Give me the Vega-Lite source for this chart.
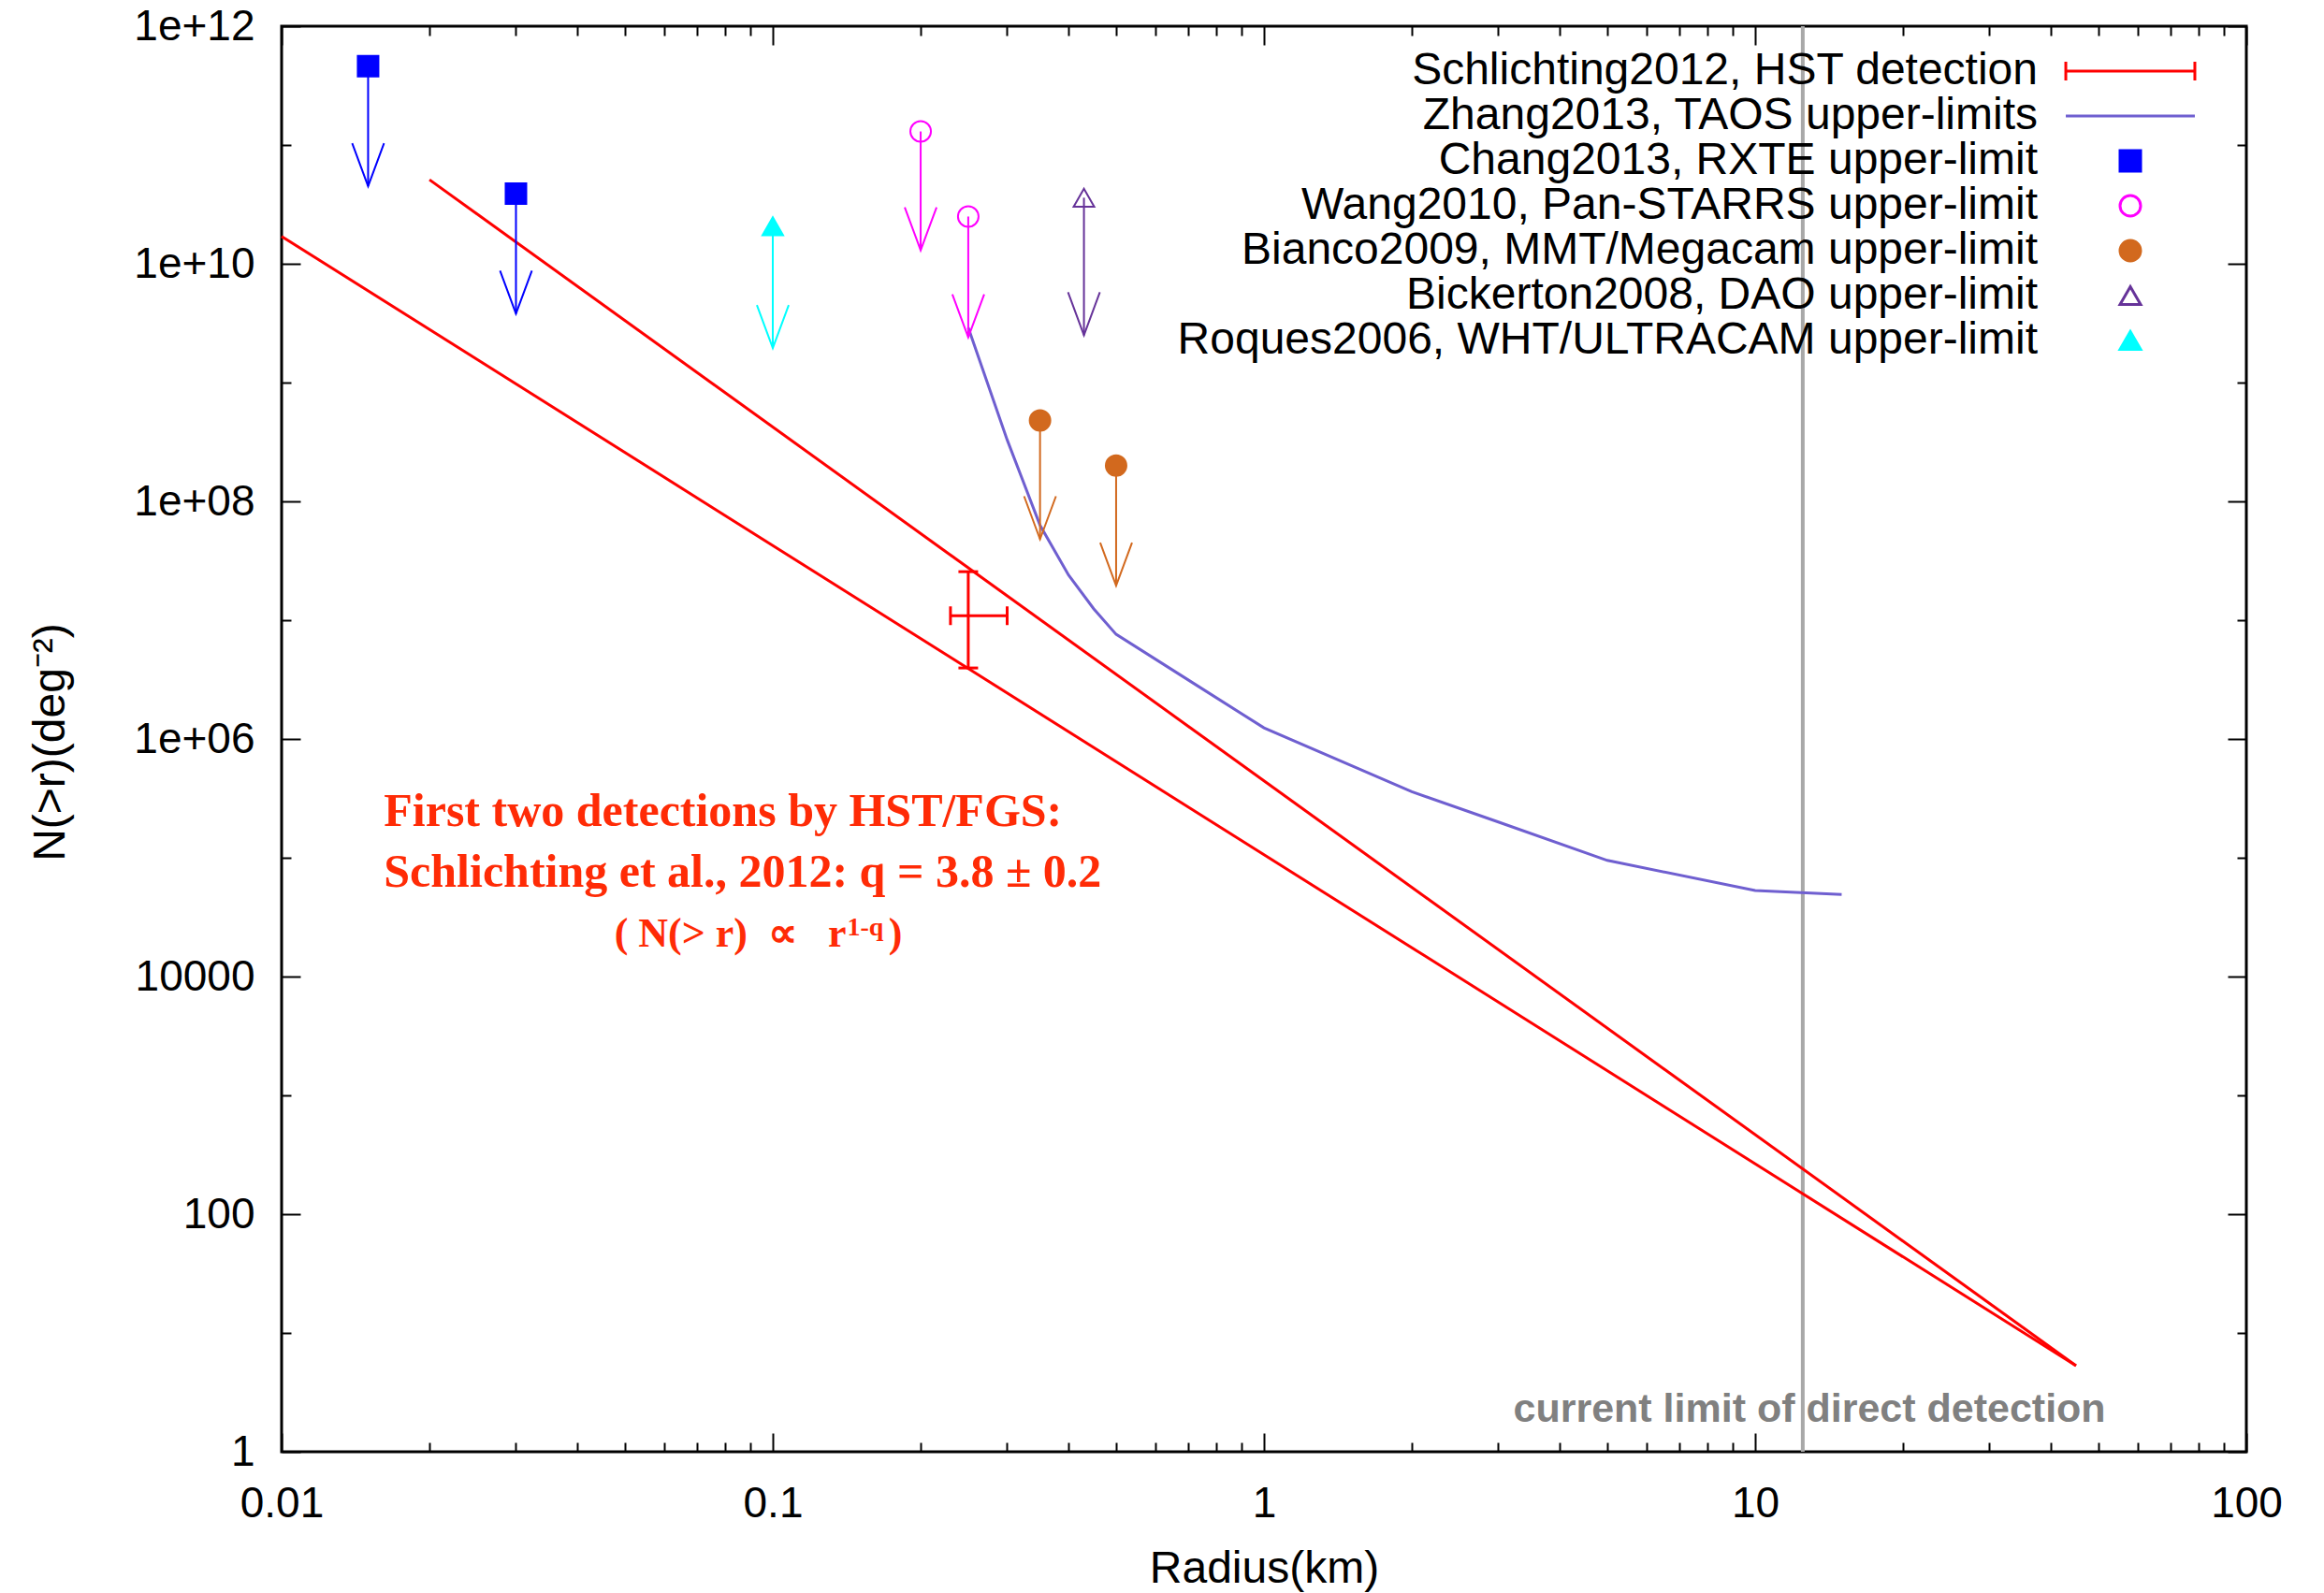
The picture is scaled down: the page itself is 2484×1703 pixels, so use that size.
{
  "$schema": "https://vega.github.io/schema/vega-lite/v6.json",
  "width": 2100,
  "height": 1524,
  "autosize": {"type": "none"},
  "padding": {"left": 301, "top": 28, "right": 83, "bottom": 151},
  "background": "white",
  "config": {
    "view": {"stroke": "#000000", "strokeWidth": 3},
    "font": "Liberation Sans",
    "axis": {"grid": false, "domain": false, "tickColor": "#000000", "tickWidth": 2, "labelFlush": false, "labelOverlap": false, "labelBound": false, "labelColor": "#000000", "labelFont": "Liberation Sans", "labelFontSize": 46, "titleFont": "Liberation Sans", "titleFontSize": 48, "titleFontWeight": "normal", "titleColor": "#000000"}
  },
  "datasets": {
    "powerlaw": [
      {"model": "q=3.6", "r": 0.01, "n": 1.7e10},
      {"model": "q=3.6", "r": 45, "n": 5.3},
      {"model": "q=4.0", "r": 0.02, "n": 5.1e10},
      {"model": "q=4.0", "r": 45, "n": 5.3}
    ],
    "taos": [
      {"r": 0.25, "n": 2.9e9}, {"r": 0.3, "n": 3.3e8}, {"r": 0.35, "n": 6.3e7}, {"r": 0.4, "n": 2.4e7},
      {"r": 0.45, "n": 1.25e7}, {"r": 0.5, "n": 7.6e6}, {"r": 1, "n": 1.24e6}, {"r": 2, "n": 3.6e5},
      {"r": 3, "n": 2.0e5}, {"r": 5, "n": 9.5e4}, {"r": 10, "n": 5.3e4}, {"r": 15, "n": 4.9e4}
    ],
    "errbar": [{"r": 0.25, "n": 1.09e7, "nlo": 3.96e6, "nhi": 2.56e7, "rlo": 0.23, "rhi": 0.30}],
    "limits": [
      {"series": "Chang2013, RXTE upper-limit", "r": 0.015, "n": 4.6e11, "ntip": 4.5e10},
      {"series": "Chang2013, RXTE upper-limit", "r": 0.03, "n": 3.9e10, "ntip": 3.8e9},
      {"series": "Wang2010, Pan-STARRS upper-limit", "r": 0.2, "n": 1.3e11, "ntip": 1.3e10},
      {"series": "Wang2010, Pan-STARRS upper-limit", "r": 0.25, "n": 2.5e10, "ntip": 2.4e9},
      {"series": "Bianco2009, MMT/Megacam upper-limit", "r": 0.35, "n": 4.8e8, "ntip": 4.8e7},
      {"series": "Bianco2009, MMT/Megacam upper-limit", "r": 0.5, "n": 2.0e8, "ntip": 1.95e7},
      {"series": "Bickerton2008, DAO upper-limit", "r": 0.43, "n": 3.6e10, "ntip": 2.5e9},
      {"series": "Roques2006, WHT/ULTRACAM upper-limit", "r": 0.1, "n": 2.07e10, "ntip": 1.95e9}
    ],
    "one": [{}]
  },
  "resolve": {"axis": {"x": "independent", "y": "independent"}},
  "layer": [
    {
      "data": {"name": "one"},
      "mark": {"type": "rule", "color": "#a8a8a8", "strokeWidth": 4},
      "encoding": {
        "x": {"datum": 12.5, "type": "quantitative", "scale": {"type": "log", "domain": [0.01, 100], "nice": false}, "axis": null}
      }
    },
    {
      "data": {"name": "powerlaw"},
      "mark": {"type": "line", "color": "#ff0000", "strokeWidth": 3},
      "encoding": {
        "x": {"field": "r", "type": "quantitative", "scale": {"type": "log", "domain": [0.01, 100], "nice": false},
              "axis": {"orient": "bottom", "values": [0.01, 0.1, 1, 10, 100], "format": "~g", "tickSize": -20, "labelPadding": 53, "title": "Radius(km)", "titleX": 1050, "titleY": 139, "titleBaseline": "alphabetic", "titleAlign": "center"}},
        "y": {"field": "n", "type": "quantitative", "scale": {"type": "log", "domain": [1, 1e12], "nice": false},
              "axis": {"orient": "left", "values": [1, 100, 10000, 1e6, 1e8, 1e10, 1e12], "labelExpr": "datum.value < 1e5 ? format(datum.value, 'd') : datum.value < 1e7 ? '1e+06' : datum.value < 1e9 ? '1e+08' : datum.value < 1e11 ? '1e+10' : '1e+12'", "tickSize": -20, "labelPadding": 49, "title": "N(>r)(deg⁻²)", "titleAngle": 270, "titleX": -233, "titleY": 765, "titleBaseline": "alphabetic", "titleAlign": "center"}},
        "detail": {"field": "model"}
      }
    },
    {
      "data": {"name": "taos"},
      "mark": {"type": "line", "color": "#6f5fd0", "strokeWidth": 3},
      "encoding": {
        "x": {"field": "r", "type": "quantitative", "scale": {"type": "log", "domain": [0.01, 100], "nice": false},
              "axis": {"orient": "bottom", "values": [0.02, 0.03, 0.04, 0.05, 0.06, 0.07, 0.08, 0.09, 0.2, 0.3, 0.4, 0.5, 0.6, 0.7, 0.8, 0.9, 2, 3, 4, 5, 6, 7, 8, 9, 20, 30, 40, 50, 60, 70, 80, 90], "tickSize": -10, "labels": false, "title": null}},
        "y": {"field": "n", "type": "quantitative", "scale": {"type": "log", "domain": [1, 1e12], "nice": false},
              "axis": {"orient": "left", "values": [10, 1000, 1e5, 1e7, 1e9, 1e11], "tickSize": -10, "labels": false, "title": null}}
      }
    },
    {
      "data": {"name": "errbar"},
      "mark": {"type": "rule", "color": "#ff0000", "strokeWidth": 3},
      "encoding": {
        "x": {"field": "r", "type": "quantitative", "scale": {"type": "log", "domain": [0.01, 100], "nice": false},
              "axis": {"orient": "top", "values": [0.01, 0.1, 1, 10, 100], "tickSize": -20, "labels": false, "title": null}},
        "y": {"field": "nlo", "type": "quantitative", "scale": {"type": "log", "domain": [1, 1e12], "nice": false},
              "axis": {"orient": "right", "values": [1, 100, 10000, 1e6, 1e8, 1e10, 1e12], "tickSize": -20, "labels": false, "title": null}},
        "y2": {"field": "nhi"}
      }
    },
    {
      "data": {"name": "errbar"},
      "mark": {"type": "rule", "color": "#ff0000", "strokeWidth": 3},
      "encoding": {
        "x": {"field": "rlo", "type": "quantitative", "scale": {"type": "log", "domain": [0.01, 100], "nice": false},
              "axis": {"orient": "top", "values": [0.02, 0.03, 0.04, 0.05, 0.06, 0.07, 0.08, 0.09, 0.2, 0.3, 0.4, 0.5, 0.6, 0.7, 0.8, 0.9, 2, 3, 4, 5, 6, 7, 8, 9, 20, 30, 40, 50, 60, 70, 80, 90], "tickSize": -10, "labels": false, "title": null}},
        "x2": {"field": "rhi"},
        "y": {"field": "n", "type": "quantitative", "scale": {"type": "log", "domain": [1, 1e12], "nice": false},
              "axis": {"orient": "right", "values": [10, 1000, 1e5, 1e7, 1e9, 1e11], "tickSize": -10, "labels": false, "title": null}}
      }
    },
    {
      "data": {"name": "errbar"},
      "mark": {"type": "point", "filled": false, "color": "#ff0000", "strokeWidth": 3, "opacity": 1, "shape": "M -1 0 L 1 0", "size": 441},
      "encoding": {
        "x": {"field": "r", "type": "quantitative", "scale": {"type": "log", "domain": [0.01, 100], "nice": false}, "axis": null},
        "y": {"field": "nlo", "type": "quantitative", "scale": {"type": "log", "domain": [1, 1e12], "nice": false}, "axis": null}
      }
    },
    {
      "data": {"name": "errbar"},
      "mark": {"type": "point", "filled": false, "color": "#ff0000", "strokeWidth": 3, "opacity": 1, "shape": "M -1 0 L 1 0", "size": 441},
      "encoding": {
        "x": {"field": "r", "type": "quantitative", "scale": {"type": "log", "domain": [0.01, 100], "nice": false}, "axis": null},
        "y": {"field": "nhi", "type": "quantitative", "scale": {"type": "log", "domain": [1, 1e12], "nice": false}, "axis": null}
      }
    },
    {
      "data": {"name": "errbar"},
      "mark": {"type": "point", "filled": false, "color": "#ff0000", "strokeWidth": 3, "opacity": 1, "shape": "M 0 -1 L 0 1", "size": 400},
      "encoding": {
        "x": {"field": "rlo", "type": "quantitative", "scale": {"type": "log", "domain": [0.01, 100], "nice": false}, "axis": null},
        "y": {"field": "n", "type": "quantitative", "scale": {"type": "log", "domain": [1, 1e12], "nice": false}, "axis": null}
      }
    },
    {
      "data": {"name": "errbar"},
      "mark": {"type": "point", "filled": false, "color": "#ff0000", "strokeWidth": 3, "opacity": 1, "shape": "M 0 -1 L 0 1", "size": 400},
      "encoding": {
        "x": {"field": "rhi", "type": "quantitative", "scale": {"type": "log", "domain": [0.01, 100], "nice": false}, "axis": null},
        "y": {"field": "n", "type": "quantitative", "scale": {"type": "log", "domain": [1, 1e12], "nice": false}, "axis": null}
      }
    },
    {
      "data": {"name": "limits"},
      "mark": {"type": "rule", "strokeWidth": 2},
      "encoding": {
        "x": {"field": "r", "type": "quantitative", "scale": {"type": "log", "domain": [0.01, 100], "nice": false}, "axis": null},
        "y": {"field": "n", "type": "quantitative", "scale": {"type": "log", "domain": [1, 1e12], "nice": false}, "axis": null},
        "y2": {"field": "ntip"},
        "color": {"field": "series", "type": "nominal", "legend": null,
                  "scale": {"domain": ["Chang2013, RXTE upper-limit", "Wang2010, Pan-STARRS upper-limit", "Bianco2009, MMT/Megacam upper-limit", "Bickerton2008, DAO upper-limit", "Roques2006, WHT/ULTRACAM upper-limit"],
                            "range": ["#0000ff", "#ff00ff", "#d2691e", "#663399", "#00ffff"]}}
      }
    },
    {
      "data": {"name": "limits"},
      "mark": {"type": "point", "filled": false, "strokeWidth": 2, "opacity": 1, "shape": "M -0.37 -1 L 0 0 L 0.37 -1", "size": 8464},
      "encoding": {
        "x": {"field": "r", "type": "quantitative", "scale": {"type": "log", "domain": [0.01, 100], "nice": false}, "axis": null},
        "y": {"field": "ntip", "type": "quantitative", "scale": {"type": "log", "domain": [1, 1e12], "nice": false}, "axis": null},
        "color": {"field": "series", "type": "nominal", "legend": null,
                  "scale": {"domain": ["Chang2013, RXTE upper-limit", "Wang2010, Pan-STARRS upper-limit", "Bianco2009, MMT/Megacam upper-limit", "Bickerton2008, DAO upper-limit", "Roques2006, WHT/ULTRACAM upper-limit"],
                            "range": ["#0000ff", "#ff00ff", "#d2691e", "#663399", "#00ffff"]}}
      }
    },
    {
      "data": {"name": "limits"},
      "mark": {"type": "point", "filled": true, "strokeWidth": 2, "opacity": 1, "size": 484},
      "encoding": {
        "x": {"field": "r", "type": "quantitative", "scale": {"type": "log", "domain": [0.01, 100], "nice": false}, "axis": null},
        "y": {"field": "n", "type": "quantitative", "scale": {"type": "log", "domain": [1, 1e12], "nice": false}, "axis": null},
        "stroke": {"field": "series", "type": "nominal",
                   "legend": {"title": null, "orient": "none", "legendX": 1952, "legendY": 24, "padding": 0, "labelFont": "Liberation Sans", "labelFontSize": 48, "labelColor": "#000000", "labelAlign": "right", "labelBaseline": "middle", "labelOffset": -123, "labelLimit": 0, "symbolSize": 484, "symbolStrokeWidth": 3, "rowPadding": 0},
                   "scale": {"domain": ["Schlichting2012, HST detection", "Zhang2013, TAOS upper-limits", "Chang2013, RXTE upper-limit", "Wang2010, Pan-STARRS upper-limit", "Bianco2009, MMT/Megacam upper-limit", "Bickerton2008, DAO upper-limit", "Roques2006, WHT/ULTRACAM upper-limit"],
                             "range": ["#ff0000", "#6f5fd0", "#0000ff", "#ff00ff", "#d2691e", "#663399", "#00ffff"]}},
        "fill": {"field": "series", "type": "nominal",
                 "legend": {"title": null, "orient": "none", "legendX": 1952, "legendY": 24, "padding": 0, "labelFont": "Liberation Sans", "labelFontSize": 48, "labelColor": "#000000", "labelAlign": "right", "labelBaseline": "middle", "labelOffset": -123, "labelLimit": 0, "symbolSize": 484, "symbolStrokeWidth": 3, "rowPadding": 0},
                 "scale": {"domain": ["Schlichting2012, HST detection", "Zhang2013, TAOS upper-limits", "Chang2013, RXTE upper-limit", "Wang2010, Pan-STARRS upper-limit", "Bianco2009, MMT/Megacam upper-limit", "Bickerton2008, DAO upper-limit", "Roques2006, WHT/ULTRACAM upper-limit"],
                           "range": ["transparent", "transparent", "#0000ff", "transparent", "#d2691e", "transparent", "#00ffff"]}},
        "shape": {"field": "series", "type": "nominal",
                  "legend": {"title": null, "orient": "none", "legendX": 1952, "legendY": 24, "padding": 0, "labelFont": "Liberation Sans", "labelFontSize": 48, "labelColor": "#000000", "labelAlign": "right", "labelBaseline": "middle", "labelOffset": -123, "labelLimit": 0, "symbolSize": 484, "symbolStrokeWidth": 3, "rowPadding": 0},
                  "scale": {"domain": ["Schlichting2012, HST detection", "Zhang2013, TAOS upper-limits", "Chang2013, RXTE upper-limit", "Wang2010, Pan-STARRS upper-limit", "Bianco2009, MMT/Megacam upper-limit", "Bickerton2008, DAO upper-limit", "Roques2006, WHT/ULTRACAM upper-limit"],
                            "range": ["M -6.27 0 L 6.27 0 M -6.27 -0.9 L -6.27 0.9 M 6.27 -0.9 L 6.27 0.9", "M -6.27 0 L 6.27 0", "square", "circle", "circle", "triangle-up", "triangle-up"]}}
      }
    },
    {
      "data": {"name": "one"},
      "mark": {"type": "text", "text": "current limit of direct detection", "font": "Liberation Sans", "fontWeight": "bold", "fontSize": 43, "color": "#808080", "align": "center", "baseline": "alphabetic"},
      "encoding": {
        "x": {"datum": 12.9, "type": "quantitative", "scale": {"type": "log", "domain": [0.01, 100], "nice": false}, "axis": null},
        "y": {"datum": 1.8, "type": "quantitative", "scale": {"type": "log", "domain": [1, 1e12], "nice": false}, "axis": null}
      }
    },
    {
      "data": {"name": "one"},
      "mark": {"type": "text", "text": "First two detections by HST/FGS:", "font": "Liberation Serif", "fontWeight": "bold", "fontSize": 50, "color": "#ff2b06", "align": "left", "baseline": "alphabetic"},
      "encoding": {
        "x": {"datum": 0.01615, "type": "quantitative", "scale": {"type": "log", "domain": [0.01, 100], "nice": false}, "axis": null},
        "y": {"datum": 185000, "type": "quantitative", "scale": {"type": "log", "domain": [1, 1e12], "nice": false}, "axis": null}
      }
    },
    {
      "data": {"name": "one"},
      "mark": {"type": "text", "text": "Schlichting et al., 2012: q = 3.8 ± 0.2", "font": "Liberation Serif", "fontWeight": "bold", "fontSize": 50, "color": "#ff2b06", "align": "left", "baseline": "alphabetic"},
      "encoding": {
        "x": {"datum": 0.01615, "type": "quantitative", "scale": {"type": "log", "domain": [0.01, 100], "nice": false}, "axis": null},
        "y": {"datum": 57000, "type": "quantitative", "scale": {"type": "log", "domain": [1, 1e12], "nice": false}, "axis": null}
      }
    },
    {
      "data": {"name": "one"},
      "mark": {"type": "text", "text": "(\u00a0N(>\u00a0r)\u00a0\u00a0∝\u00a0\u00a0\u00a0r", "font": "Liberation Serif", "fontWeight": "bold", "fontSize": 44, "color": "#ff2b06", "align": "right", "baseline": "alphabetic"},
      "encoding": {
        "x": {"datum": 0.1411, "type": "quantitative", "scale": {"type": "log", "domain": [0.01, 100], "nice": false}, "axis": null},
        "y": {"datum": 17900, "type": "quantitative", "scale": {"type": "log", "domain": [1, 1e12], "nice": false}, "axis": null}
      }
    },
    {
      "data": {"name": "one"},
      "mark": {"type": "text", "text": "1-q", "font": "Liberation Serif", "fontWeight": "bold", "fontSize": 28, "color": "#ff2b06", "align": "left", "baseline": "alphabetic", "dx": 1, "dy": -12},
      "encoding": {
        "x": {"datum": 0.1411, "type": "quantitative", "scale": {"type": "log", "domain": [0.01, 100], "nice": false}, "axis": null},
        "y": {"datum": 17900, "type": "quantitative", "scale": {"type": "log", "domain": [1, 1e12], "nice": false}, "axis": null}
      }
    },
    {
      "data": {"name": "one"},
      "mark": {"type": "text", "text": ")", "font": "Liberation Serif", "fontWeight": "bold", "fontSize": 44, "color": "#ff2b06", "align": "left", "baseline": "alphabetic"},
      "encoding": {
        "x": {"datum": 0.172, "type": "quantitative", "scale": {"type": "log", "domain": [0.01, 100], "nice": false}, "axis": null},
        "y": {"datum": 17900, "type": "quantitative", "scale": {"type": "log", "domain": [1, 1e12], "nice": false}, "axis": null}
      }
    }
  ]
}
